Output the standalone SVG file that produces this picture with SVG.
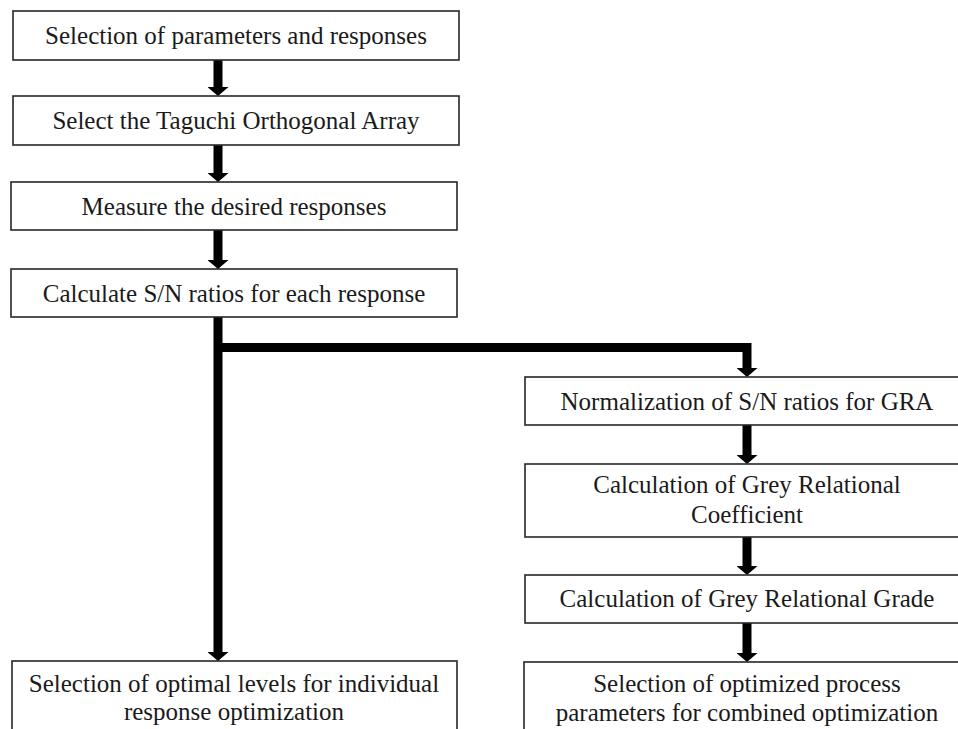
<svg xmlns="http://www.w3.org/2000/svg" width="958" height="729" viewBox="0 0 958 729">
<style>
.box{fill:#fff;stroke:#262626;stroke-width:1.6}
.t{font-family:"Liberation Serif","Times New Roman",serif;font-size:25px;fill:#1a1a1a;text-anchor:middle}
.c{stroke:#000;stroke-width:9;fill:none}
</style>
<defs>
<marker id="ah" viewBox="0 -10.5 9 21" refX="0" refY="0" markerWidth="9" markerHeight="21" markerUnits="userSpaceOnUse" orient="auto">
<path d="M0,-10.5 L9,0 L0,10.5 Z" fill="#000"/>
</marker>
</defs>
<rect width="958" height="729" fill="#fff"/>
<g id="connectors">
<line class="c" x1="218" y1="60" x2="218" y2="87" marker-end="url(#ah)"/>
<line class="c" x1="218" y1="145" x2="218" y2="173" marker-end="url(#ah)"/>
<line class="c" x1="218" y1="230" x2="218" y2="260" marker-end="url(#ah)"/>
<line class="c" x1="218" y1="317" x2="218" y2="652" marker-end="url(#ah)"/>
<polyline class="c" points="218,347.5 747,347.5 747,368" marker-end="url(#ah)"/>
<line class="c" x1="747" y1="425" x2="747" y2="455" marker-end="url(#ah)"/>
<line class="c" x1="747" y1="537" x2="747" y2="566" marker-end="url(#ah)"/>
<line class="c" x1="747" y1="623" x2="747" y2="653" marker-end="url(#ah)"/>
</g>
<g id="n1"><rect class="box" x="13" y="11" width="446" height="49"/><text class="t" x="236" y="44">Selection of parameters and responses</text></g>
<g id="n2"><rect class="box" x="13" y="96" width="446" height="49"/><text class="t" x="236" y="129">Select the Taguchi Orthogonal Array</text></g>
<g id="n3"><rect class="box" x="11" y="182" width="446" height="48"/><text class="t" x="234" y="215">Measure the desired responses</text></g>
<g id="n4"><rect class="box" x="11" y="269" width="446" height="48"/><text class="t" x="234" y="302">Calculate S/N ratios for each response</text></g>
<g id="n5"><rect class="box" x="12" y="661" width="445" height="80"/><text class="t" x="234" y="692">Selection of optimal levels for individual</text><text class="t" x="234" y="720">response optimization</text></g>
<g id="n6"><rect class="box" x="525" y="377" width="445" height="48"/><text class="t" x="747" y="410">Normalization of S/N ratios for GRA</text></g>
<g id="n7"><rect class="box" x="525" y="464" width="445" height="73"/><text class="t" x="747" y="493">Calculation of Grey Relational</text><text class="t" x="747" y="523">Coefficient</text></g>
<g id="n8"><rect class="box" x="525" y="575" width="445" height="48"/><text class="t" x="747" y="607">Calculation of Grey Relational Grade</text></g>
<g id="n9"><rect class="box" x="524" y="662" width="446" height="80"/><text class="t" x="747" y="692">Selection of optimized process</text><text class="t" x="747" y="721">parameters for combined optimization</text></g>
</svg>
